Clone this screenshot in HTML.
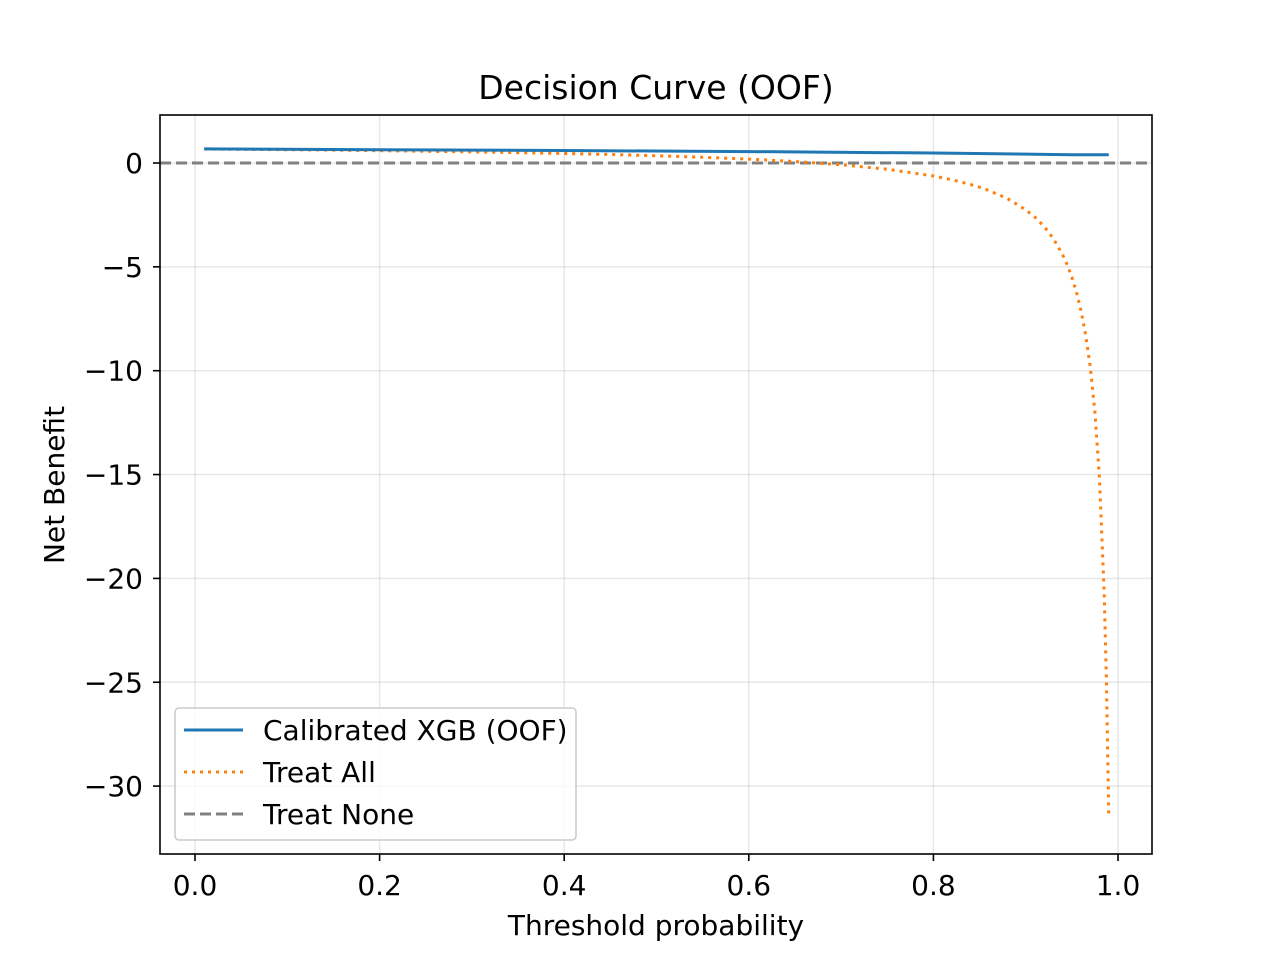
<!DOCTYPE html>
<html><head><meta charset="utf-8"><style>
body{margin:0;background:#fff;font-family:"Liberation Sans","DejaVu Sans",sans-serif}
svg text{font-family:"DejaVu Sans","Liberation Sans",sans-serif;fill:#000}
</style></head><body>
<svg id="chart" width="1280" height="960" xmlns="http://www.w3.org/2000/svg"></svg>
<script>
const thresholds = [0.01,0.1,0.2,0.3,0.4,0.45,0.5,0.55,0.6,0.65,0.7,0.75,0.8,0.82,0.84,0.85,0.86,0.88,0.9,0.91,0.92,0.93,0.94,0.945,0.95,0.955,0.96,0.965,0.97,0.975,0.98,0.985,0.9875,0.99];
const treatAll = [0.672,0.639,0.594,0.536,0.458,0.409,0.35,0.278,0.188,0.071,-0.083,-0.30,-0.625,-0.806,-1.031,-1.167,-1.321,-1.708,-2.25,-2.61,-3.06,-3.64,-4.42,-4.91,-5.50,-6.22,-7.125,-8.29,-9.83,-12.0,-15.25,-20.67,-25.0,-31.5];
const modelX = [0.01,0.2,0.4,0.6,0.8,0.9,0.95,0.99];
const modelNB = [0.68,0.64,0.6,0.55,0.48,0.43,0.40,0.40];
const xTicks = [0.0,0.2,0.4,0.6,0.8,1.0];
const yTicks = [0,-5,-10,-15,-20,-25,-30];

const NS="http://www.w3.org/2000/svg";
const svg=document.getElementById('chart');
const L=160,R=1152,T=115,B=854;
const sx=v=>195+v*923;
const sy=v=>163-v*20.77;
function mk(tag,attrs,parent){const e=document.createElementNS(NS,tag);for(const k in attrs)e.setAttribute(k,attrs[k]);(parent||svg).appendChild(e);return e;}

xTicks.forEach(t=>{const l=mk('line',{x1:sx(t),x2:sx(t),y1:T,y2:B,stroke:'#b0b0b0','stroke-opacity':0.3,'stroke-width':1.5});

});
yTicks.forEach(t=>{const l=mk('line',{x1:L,x2:R,y1:sy(t),y2:sy(t),stroke:'#b0b0b0','stroke-opacity':0.3,'stroke-width':1.5});

});

const pts=(xs,ys)=>xs.map((x,i)=>sx(x)+','+sy(ys[i])).join(' ');
const none=mk('line',{x1:L,x2:R,y1:sy(0),y2:sy(0),stroke:'#808080','stroke-width':3,'stroke-dasharray':'11,5'});


const all=mk('polyline',{points:pts(thresholds,treatAll),fill:'none',stroke:'#ff7f0e','stroke-width':3,'stroke-dasharray':'3,5'});


const model=mk('polyline',{points:pts(modelX,modelNB),fill:'none',stroke:'#1f77b4','stroke-width':3});



const fr=mk('rect',{x:L,y:T,width:R-L,height:B-T,fill:'none',stroke:'#000','stroke-width':1.6});



xTicks.forEach(t=>{mk('line',{x1:sx(t),x2:sx(t),y1:B,y2:B+7,stroke:'#000','stroke-width':1.6});
const tx=mk('text',{x:sx(t),y:B+41,'text-anchor':'middle','font-size':28});tx.textContent=t.toFixed(1);

});
yTicks.forEach(t=>{mk('line',{x1:L-7,x2:L,y1:sy(t),y2:sy(t),stroke:'#000','stroke-width':1.6});
const tx=mk('text',{x:L-17,y:sy(t)+10,'text-anchor':'end','font-size':28});tx.textContent=t<0?'\u2212'+(-t):String(t);

});

let e=mk('text',{x:656,y:99,'text-anchor':'middle','font-size':33});e.textContent='Decision Curve (OOF)';


e=mk('text',{x:656,y:935,'text-anchor':'middle','font-size':28});e.textContent='Threshold probability';


e=mk('text',{x:64,y:485,'text-anchor':'middle','font-size':28,transform:'rotate(-90 64 485)'});e.textContent='Net Benefit';



const lg=mk('g',{});


mk('rect',{x:175,y:708,width:401,height:132,rx:4,fill:'#fff','fill-opacity':0.8,stroke:'#ccc','stroke-width':1.6},lg);
const entries=[['Calibrated XGB (OOF)','#1f77b4','none'],['Treat All','#ff7f0e','3,5'],['Treat None','#808080','11,5']];
entries.forEach((en,i)=>{const y=730+i*42;
const g=mk('g',{},lg);


mk('line',{x1:184,x2:243,y1:y,y2:y,stroke:en[1],'stroke-width':3,'stroke-dasharray':en[2]},g);
const t=mk('text',{x:263,y:y+10,'font-size':28},g);t.textContent=en[0];});
</script>
</body></html>
